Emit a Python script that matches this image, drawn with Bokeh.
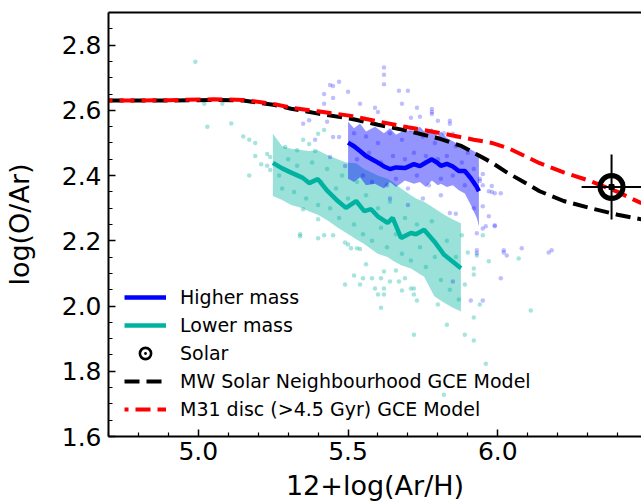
from bokeh.plotting import figure
from bokeh.models import (FixedTicker, LinearAxis, Legend, LegendItem, Range1d)
from bokeh.embed import file_html
from bokeh.resources import INLINE

# ---------------- data ----------------
mw_x = [4.70, 4.90, 5.05, 5.15, 5.25, 5.31, 5.40, 5.51, 5.60, 5.70, 5.81, 5.88,
        5.92, 5.98, 6.03, 6.14, 6.22, 6.31, 6.40, 6.48]
mw_y = [2.630, 2.630, 2.632, 2.630, 2.617, 2.605, 2.590, 2.574, 2.556, 2.537, 2.512,
        2.490, 2.470, 2.440, 2.410, 2.352, 2.322, 2.300, 2.280, 2.266]

m31_x = [4.70, 4.90, 5.05, 5.15, 5.25, 5.31, 5.40, 5.51, 5.60, 5.70, 5.81, 5.92,
         5.98, 6.04, 6.14, 6.22, 6.31, 6.40, 6.48]
m31_y = [2.630, 2.631, 2.634, 2.632, 2.620, 2.608, 2.597, 2.583, 2.566, 2.548, 2.530,
         2.510, 2.500, 2.482, 2.438, 2.410, 2.383, 2.350, 2.315]

solar_x = [6.38]
solar_y = [2.365]
solar_xerr = 0.1
solar_yerr = 0.1

hi_x = [5.50, 5.52, 5.54, 5.56, 5.59, 5.62, 5.64, 5.66, 5.69, 5.72, 5.74, 5.76,
        5.78, 5.80, 5.81, 5.83, 5.85, 5.87, 5.89, 5.91, 5.93, 5.937]
hi_y = [2.501, 2.490, 2.475, 2.460, 2.445, 2.428, 2.420, 2.425, 2.423, 2.435, 2.429,
        2.440, 2.450, 2.438, 2.430, 2.436, 2.428, 2.414, 2.414, 2.392, 2.365, 2.352]
hi_upper = [2.565, 2.545, 2.560, 2.535, 2.550, 2.530, 2.545, 2.525, 2.540, 2.535, 2.550,
            2.530, 2.545, 2.520, 2.535, 2.515, 2.505, 2.495, 2.490, 2.480, 2.470, 2.466]
hi_lower = [2.390, 2.380, 2.395, 2.370, 2.375, 2.360, 2.380, 2.365, 2.385, 2.375, 2.380,
            2.365, 2.385, 2.370, 2.375, 2.365, 2.370, 2.355, 2.345, 2.310, 2.270, 2.245]

lo_x = [5.249, 5.28, 5.31, 5.349, 5.37, 5.399, 5.432, 5.466, 5.493, 5.527, 5.554, 5.577,
        5.599, 5.632, 5.649, 5.677, 5.71, 5.727, 5.754, 5.788, 5.821, 5.85, 5.877]
lo_y = [2.439, 2.422, 2.409, 2.393, 2.377, 2.389, 2.352, 2.322, 2.301, 2.322, 2.291, 2.297,
        2.275, 2.255, 2.270, 2.209, 2.224, 2.220, 2.234, 2.198, 2.157, 2.136, 2.116]
lo_upper = [2.528, 2.490, 2.482, 2.478, 2.475, 2.478, 2.462, 2.450, 2.440, 2.438, 2.420,
            2.410, 2.400, 2.390, 2.380, 2.360, 2.340, 2.330, 2.320, 2.300, 2.280, 2.265, 2.254]
lo_lower = [2.337, 2.325, 2.310, 2.300, 2.290, 2.280, 2.262, 2.240, 2.225, 2.205, 2.190,
            2.175, 2.160, 2.150, 2.140, 2.125, 2.115, 2.105, 2.090, 2.030, 2.010, 1.995, 1.983]

teal_x = [4.99, 5.02, 5.03, 5.08, 5.11, 5.15, 5.17, 5.17, 5.19, 5.19, 5.21, 5.23, 5.24, 5.23,
          5.24, 5.29, 5.33, 5.35, 5.37, 5.39, 5.40, 5.42, 5.34, 5.34, 5.40, 5.40, 5.42, 5.45,
          5.35, 5.49, 5.50, 5.51, 5.53, 5.54, 5.56, 5.52, 5.55, 5.58, 5.61, 5.49, 5.54, 5.59,
          5.62, 5.60, 5.62, 5.61, 5.62, 5.64, 5.66, 5.67, 5.69, 5.71, 5.72, 5.68, 5.73, 5.72,
          5.80, 5.83, 5.72, 5.89, 5.92, 5.92, 5.90, 5.93, 5.97, 5.94, 5.92, 5.89, 5.92, 5.96,
          6.11, 6.07, 5.82, 5.88, 5.95,
          5.27, 5.28, 5.30, 5.32, 5.33, 5.36, 5.38, 5.40, 5.41, 5.43, 5.44, 5.46, 5.47, 5.48,
          5.50, 5.52, 5.53, 5.55, 5.56, 5.58, 5.60, 5.61, 5.63, 5.64, 5.66, 5.68, 5.69, 5.71,
          5.73, 5.74, 5.76, 5.78, 5.79, 5.81, 5.83, 5.84, 5.86, 5.87]
teal_y = [2.749, 2.620, 2.550, 2.620, 2.560, 2.520, 2.510, 2.400, 2.500, 2.460, 2.435, 2.466,
          2.457, 2.430, 2.417, 2.488, 2.478, 2.510, 2.497, 2.475, 2.528, 2.540, 2.214, 2.220,
          2.266, 2.208, 2.217, 2.217, 2.297, 2.195, 2.189, 2.177, 2.177, 2.175, 2.128, 2.094,
          2.085, 2.085, 2.085, 2.066, 2.066, 2.054, 2.054, 2.035, 2.035, 1.995, 2.106, 2.075,
          2.109, 2.075, 2.085, 2.054, 2.054, 2.048, 2.017, 2.035, 2.005, 1.943, 1.912, 2.066,
          2.115, 2.097, 2.164, 2.155, 2.137, 2.005, 1.965, 1.912, 1.894, 1.823, 1.986, 2.146,
          1.728, 2.217, 2.217,
          2.400, 2.360, 2.450, 2.350, 2.430, 2.330, 2.440, 2.310, 2.380, 2.420, 2.300, 2.360,
          2.270, 2.400, 2.330, 2.250, 2.380, 2.220, 2.340, 2.200, 2.300, 2.240, 2.180, 2.320,
          2.220, 2.160, 2.270, 2.140, 2.250, 2.180, 2.120, 2.260, 2.150, 2.080, 2.200, 2.050,
          2.150, 2.020]

blue_x = [5.62, 5.62, 5.62, 5.50, 5.67, 5.70, 5.54, 5.59, 5.60, 5.68, 5.73, 5.78, 5.78, 5.74,
          5.71, 5.84, 5.84, 5.80, 5.45, 5.47, 5.42, 5.45, 5.78, 5.85, 5.86, 5.94, 5.95, 5.97,
          5.99, 6.01, 5.95, 5.94, 5.95, 5.95, 6.08, 6.02, 6.18, 5.93, 5.97, 5.96, 5.99, 5.93,
          6.02, 6.03, 6.17, 6.01, 5.91, 5.95, 5.85, 5.84, 5.86, 5.93, 5.98, 5.98, 5.99, 5.44,
          5.42, 5.37, 5.35, 5.43, 5.39, 5.45, 5.47, 5.44, 5.49,
          5.52, 5.53, 5.55, 5.56, 5.57, 5.58, 5.60, 5.61, 5.63, 5.64, 5.65, 5.66, 5.68, 5.69,
          5.70, 5.71, 5.72, 5.73, 5.75, 5.76, 5.77, 5.79, 5.80, 5.81, 5.82, 5.83, 5.85, 5.86,
          5.88, 5.89, 5.90, 5.92, 5.92, 5.70, 5.75, 5.64, 5.81]
blue_y = [2.731, 2.709, 2.680, 2.657, 2.660, 2.660, 2.620, 2.608, 2.595, 2.620, 2.608, 2.595,
          2.589, 2.580, 2.577, 2.568, 2.559, 2.568, 2.675, 2.688, 2.650, 2.638, 2.604, 2.528,
          2.520, 2.390, 2.370, 2.352, 2.346, 2.346, 2.405, 2.383, 2.306, 2.238, 2.177, 2.171,
          2.171, 2.171, 2.275, 2.245, 2.245, 2.223, 2.164, 2.155, 2.164, 2.085, 2.017, 2.017,
          2.075, 2.285, 2.283, 2.162, 2.368, 2.350, 2.248, 2.678, 2.620, 2.570, 2.559, 2.565,
          2.510, 2.518, 2.518, 2.457, 2.429,
          2.530, 2.450, 2.400, 2.520, 2.470, 2.380, 2.500, 2.440, 2.370, 2.530, 2.460, 2.390,
          2.510, 2.450, 2.360, 2.540, 2.470, 2.400, 2.520, 2.460, 2.370, 2.500, 2.450, 2.390,
          2.530, 2.460, 2.400, 2.490, 2.440, 2.370, 2.470, 2.420, 2.300, 2.310, 2.330, 2.330,
          2.340]

x_major = [5.0, 5.5, 6.0]
x_minor = [4.7, 4.8, 4.9, 5.1, 5.2, 5.3, 5.4, 5.6, 5.7, 5.8, 5.9, 6.1, 6.2, 6.3, 6.4]
y_major = [1.6, 1.8, 2.0, 2.2, 2.4, 2.6, 2.8]
y_minor = [1.65, 1.7, 1.75, 1.85, 1.9, 1.95, 2.05, 2.1, 2.15, 2.25, 2.3, 2.35, 2.45,
           2.5, 2.55, 2.65, 2.7, 2.75, 2.85]

TEAL = "#00b3a0"
BLUE = "#0000ff"
FONT = "DejaVu Sans"

# ---------------- figure ----------------
p = figure(width=641, height=504, output_backend="svg", toolbar_location=None,
           x_range=Range1d(4.7, 6.48), y_range=Range1d(1.6, 2.9),
           min_border_left=107, min_border_right=0, min_border_top=12,
           min_border_bottom=68, outline_line_color=None,
           x_axis_label="12+log(Ar/H)", y_axis_label="log(O/Ar)")
p.xgrid.visible = False
p.ygrid.visible = False
p.background_fill_color = "white"
p.border_fill_color = "white"

for ax, maj, mnr in ((p.xaxis[0], x_major, x_minor), (p.yaxis[0], y_major, y_minor)):
    ax.ticker = FixedTicker(ticks=maj, minor_ticks=mnr)
    ax.axis_line_width = 2
    ax.major_tick_in = 7
    ax.major_tick_out = 0
    ax.minor_tick_in = 4
    ax.minor_tick_out = 0
    ax.major_tick_line_width = 1.5
    ax.minor_tick_line_width = 1.2
    ax.major_label_text_font = FONT
    ax.major_label_text_font_size = "25px"
    ax.major_label_text_color = "black"
    ax.axis_label_text_font = FONT
    ax.axis_label_text_font_size = "27px"
    ax.axis_label_text_font_style = "normal"
    ax.axis_label_text_color = "black"
p.xaxis.major_label_standoff = 5
p.yaxis.major_label_standoff = 7
p.xaxis.axis_label_standoff = 7
p.yaxis.axis_label_standoff = 24
p.xaxis[0].major_label_overrides = {5.0: "5.0", 5.5: "5.5", 6.0: "6.0"}
p.yaxis[0].major_label_overrides = {v: f"{v:.1f}" for v in y_major}

top_axis = LinearAxis(ticker=FixedTicker(ticks=[]), axis_line_width=2,
                      major_tick_in=0, major_tick_out=0, minor_tick_in=0,
                      minor_tick_out=0, major_label_text_font_size="0px")
p.add_layout(top_axis, "above")

# ---------------- glyphs ----------------
p.varea(x=lo_x, y1=lo_lower, y2=lo_upper, fill_color=TEAL, fill_alpha=0.4)
p.scatter(teal_x, teal_y, size=4.5, color=TEAL, alpha=0.35, line_color=None)
p.varea(x=hi_x, y1=hi_lower, y2=hi_upper, fill_color=BLUE, fill_alpha=0.42)
p.scatter(blue_x, blue_y, size=4.5, color=BLUE, alpha=0.25, line_color=None)

r_lo = p.line(lo_x, lo_y, line_color=TEAL, line_width=4.5)
r_hi = p.line(hi_x, hi_y, line_color=BLUE, line_width=4.5)

r_mw = p.line(mw_x, mw_y, line_color="black", line_width=4, line_dash="15 7")
r_m31 = p.line(m31_x, m31_y, line_color="#ff0000", line_width=4, line_dash="15 7",
               line_dash_offset=11)

sx, sy = solar_x[0], solar_y[0]
p.segment(x0=[sx - solar_xerr], y0=[sy], x1=[sx + solar_xerr], y1=[sy],
          line_color="black", line_width=2)
p.segment(x0=[sx], y0=[sy - solar_yerr], x1=[sx], y1=[sy + solar_yerr],
          line_color="black", line_width=2)
p.scatter(solar_x, solar_y, marker="circle", size=23, fill_color=None,
          line_color="black", line_width=5)
p.scatter(solar_x, solar_y, marker="square", size=5, color="black")
r_sol_leg = p.scatter(solar_x, solar_y, marker="circle_dot", size=12, fill_color=None,
                      line_color="black", line_width=2.6, visible=False)

legend = Legend(items=[
    LegendItem(label="Higher mass", renderers=[r_hi]),
    LegendItem(label="Lower mass", renderers=[r_lo]),
    LegendItem(label="Solar", renderers=[r_sol_leg]),
    LegendItem(label="MW Solar Neighbourhood GCE Model", renderers=[r_mw]),
    LegendItem(label="M31 disc (>4.5 Gyr) GCE Model", renderers=[r_m31]),
], location=(16, 13), padding=0, margin=0, spacing=0, glyph_width=42,
    glyph_height=28, label_height=28, label_standoff=14,
    label_text_font=FONT, label_text_font_size="19px", label_text_color="black",
    border_line_color=None, background_fill_alpha=0)
p.add_layout(legend)

open("out.html", "w").write(file_html(p, INLINE))
